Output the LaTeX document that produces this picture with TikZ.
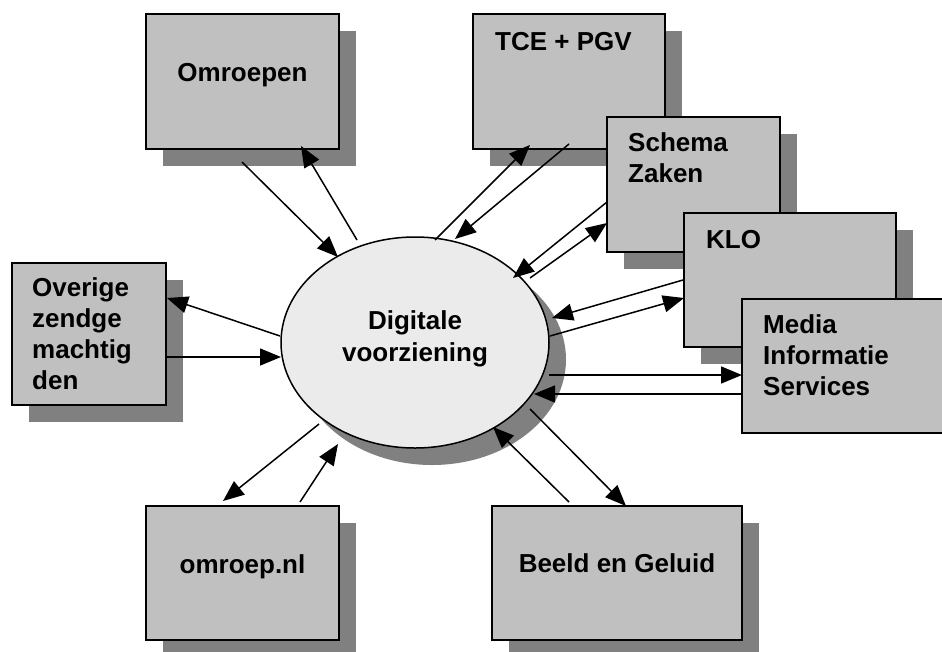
\documentclass[tikz,border=0pt]{standalone}
\usepackage{fontspec}
\setmainfont{Liberation Sans}
\usetikzlibrary{arrows.meta,shapes.geometric}
\definecolor{boxgray}{HTML}{C0C0C0}
\definecolor{shadowgray}{HTML}{808080}
\definecolor{ellgray}{HTML}{EBEBEB}
\tikzset{
  boxnode/.style={draw=black, line width=2pt, fill=boxgray, inner sep=0pt, outer sep=0pt, anchor=north west},
  lbl/.style={font=\fontsize{26}{31}\selectfont\bfseries, inner sep=0pt, align=left},
  conn/.style={line width=1.5pt, -{Triangle[length=21pt,width=17pt]}},
}
\newcommand{\shbox}[6]{% name, x1, y1, x2, y2, shadow?
  \ifnum#6=1 \fill[shadowgray] (#2+17,#3+17) rectangle (#4+17,#5+17);\fi
  \node[boxnode, minimum width=#4pt-#2pt, minimum height=#5pt-#3pt] (#1) at (#2,#3) {};
}
\begin{document}
\begin{tikzpicture}[x=1pt,y=-1pt]
\clip (0,0) rectangle (942,651);
\fill[white] (0,0) rectangle (942,651);
% boxes
\shbox{omr}{146}{14}{339}{149}{1}
\shbox{tce}{473}{14}{665}{149}{1}
\shbox{sch}{607}{117}{780}{252}{1}
\shbox{klo}{684}{213}{896}{347}{1}
\shbox{mis}{742}{299}{960}{433}{0}
\shbox{ove}{12}{263}{166}{405}{1}
\shbox{onl}{146}{506}{339}{640}{1}
\shbox{bg}{492}{506}{742}{640}{1}
% ellipse
\fill[shadowgray] (432,359.5) ellipse [x radius=134, y radius=105.5];
\node[draw=black, line width=1.5pt, fill=ellgray, ellipse, minimum width=268pt, minimum height=211pt, inner sep=0pt] (ell) at (415,342.5) {};
% labels (multi-line labels are placed by their last baseline)
\node[lbl, anchor=base] (tomr) at (242.5,81) {Omroepen};
\node[lbl, anchor=base west] (ttce) at (495,50) {TCE + PGV};
\node[lbl, anchor=base west] (tsch) at (628,182) {Schema\\Zaken};
\node[lbl, anchor=base west] (tklo) at (706,248) {KLO};
\node[lbl, anchor=base west] (tmis) at (763,395) {Media\\Informatie\\Services};
\node[lbl, anchor=base west] (tove) at (32,389) {Overige\\zendge\\machtig\\den};
\node[lbl, anchor=base] (tonl) at (242.5,573) {omroep.nl};
\node[lbl, anchor=base] (tbg) at (617,572) {Beeld en Geluid};
\node[lbl, align=center, anchor=base, font=\fontsize{26}{32}\selectfont\bfseries] (tell) at (415,361) {Digitale\\voorziening};
% connector ends
\coordinate (a1) at (242,162);  \coordinate (b1) at (338,257);
\coordinate (a2) at (357,240);  \coordinate (b2) at (301,146);
\coordinate (a3) at (435,240);  \coordinate (b3) at (530,145);
\coordinate (a4) at (569,144);  \coordinate (b4) at (455,239);
\coordinate (a5) at (607,202);  \coordinate (b5) at (513,278);
\coordinate (a6) at (530,278);  \coordinate (b6) at (607,223);
\coordinate (a7) at (683,280);  \coordinate (b7) at (552,318);
\coordinate (a8) at (550,336);  \coordinate (b8) at (684,298);
\coordinate (a9) at (549,375);  \coordinate (b9) at (742,375);
\coordinate (a10) at (742,394); \coordinate (b10) at (534,394);
\coordinate (a11) at (530,409); \coordinate (b11) at (626,506);
\coordinate (a12) at (569,502); \coordinate (b12) at (493,427);
\coordinate (a13) at (319,424); \coordinate (b13) at (223,501);
\coordinate (a14) at (300,502); \coordinate (b14) at (338,444);
\coordinate (a15) at (280,336); \coordinate (b15) at (167,298);
\coordinate (a16) at (166,357); \coordinate (b16) at (281,357);
\foreach \i in {1,...,16} { \draw[conn] (a\i) -- (b\i); }
\end{tikzpicture}
\end{document}
